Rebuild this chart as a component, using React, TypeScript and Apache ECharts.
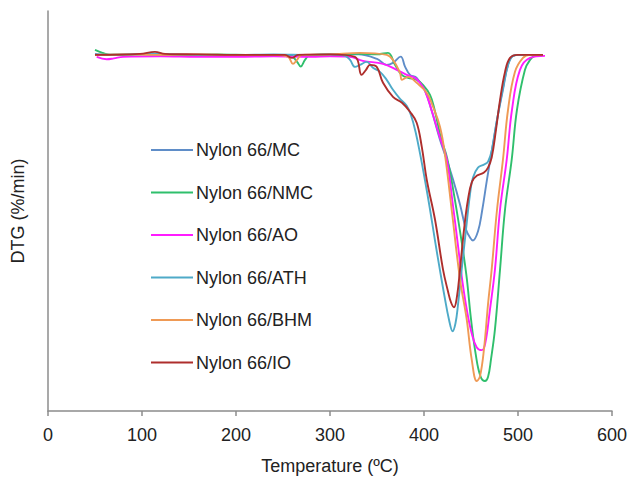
import React, { useEffect, useRef } from "react";
import * as echarts from "echarts";

const seriesNames = [
  "Nylon 66/MC",
  "Nylon 66/NMC",
  "Nylon 66/AO",
  "Nylon 66/ATH",
  "Nylon 66/BHM",
  "Nylon 66/IO",
];
const seriesColors = ["#5f8dc8", "#2fbf6c", "#ff1cff", "#4eaac8", "#ef9a55", "#ae2e2c"];
const xTicks = [0, 100, 200, 300, 400, 500, 600];

// [temperature (ºC), DTG (%/min)]
const mc: number[][] = [
  [50, 0.1], [70, 0], [100, 0.05], [140, 0], [180, 0], [220, -0.05], [260, 0], [300, 0],
  [330, 0.05], [350, -0.4], [360.3, -1.0], [367, -0.8], [375.2, -0.17], [379.8, -1.17],
  [385.1, -2.0], [392.2, -2.3], [401.1, -3.6], [408.2, -5.6], [417, -8.5], [424.1, -10.5],
  [430.9, -12.5], [438.3, -15], [444.7, -17.5], [448.9, -18.3], [452.1, -18.6], [457.4, -17.7],
  [461.7, -15.7], [467, -12.5], [472.3, -9.5], [477.7, -6.5], [484, -3.5], [489.4, -1.0],
  [494.7, -0.1], [502, 0], [526.6, 0],
];
const nmc: number[][] = [
  [50, 0.5], [58, 0.2], [66, 0], [100, 0.05], [140, 0], [180, 0.05], [220, 0], [250, 0],
  [257, 0], [265, -0.7], [268.8, -1.17], [273.4, -0.5], [278.7, 0], [300, 0.05], [330, 0.1],
  [350, 0.05], [361.7, 0.2], [369.1, -1.0], [376.3, -2.0], [383, -2.3], [392.2, -2.5],
  [398.9, -3.0], [406.4, -4.0], [411, -5.4], [418, -8.3], [424.5, -10.3], [431, -13.5],
  [438, -17.5], [445, -22], [450, -26.5], [455, -30], [460, -32.2], [464.9, -32.7],
  [468.1, -32.3], [471.3, -30.5], [475.5, -27.5], [480.9, -21.5], [486.2, -15.5], [493.3, -10.5],
  [498.9, -5.5], [507.4, -1.5], [512.8, -0.5], [518.1, -0.1], [526.6, 0],
];
const ao: number[][] = [
  [51.8, -0.2], [62.4, -0.43], [70, -0.35], [79.8, -0.2], [120, -0.15], [160, -0.2], [200, -0.2],
  [240, -0.15], [280, -0.2], [300, -0.15], [321, -0.2], [335, -0.6], [356.4, -0.9], [371, -1.5],
  [381.6, -2.0], [390.4, -2.3], [395.7, -2.8], [401.1, -3.6], [408.2, -5.6], [417, -8.3],
  [424.1, -10.4], [430, -14.5], [436, -19], [441, -22.8], [446, -25.8], [451, -28], [456, -29.3],
  [461.4, -29.6], [465, -29], [470.2, -25.5], [475.5, -21.5], [480.9, -15.5], [488, -10.5],
  [493.6, -5.5], [502.1, -1.5], [512.8, -0.3], [528.7, -0.1],
];
const ath: number[][] = [
  [50, 0], [80, 0.05], [120, 0.1], [160, 0], [200, 0], [240, 0.05], [280, 0], [300, 0.05],
  [316, -0.1], [321.3, -0.5], [326.6, -1.2], [331.9, -1.0], [339, -0.7], [345.7, -1.3],
  [353.2, -1.7], [360.3, -2.5], [367, -3.5], [374.5, -4.4], [381.6, -5.1], [386, -6.0],
  [391, -7.7], [396, -10.0], [401.1, -12.6], [406.4, -15.5], [412, -18.8], [417, -21.6],
  [422, -24.3], [426.5, -26.5], [430.5, -27.7], [433.5, -26.9], [436, -25.2], [440.1, -21.5],
  [444.7, -17.5], [448.9, -14], [452.1, -12.3], [457.4, -11.3], [463.8, -11], [468.1, -10.7],
  [472.3, -9.5], [477.7, -6.5], [484, -3.3], [489.4, -1.0], [494.7, -0.1], [502.1, 0], [526.6, 0],
];
const bhm: number[][] = [
  [50, 0], [80, 0.05], [120, 0], [160, 0.05], [200, 0], [240, 0], [255.3, -0.2], [260.6, -0.9],
  [264.9, -0.5], [270.2, 0], [300, 0.05], [331.9, 0.2], [360.3, 0], [367, -0.5], [374.5, -1.8],
  [376.6, -2.5], [383, -2.2], [392.2, -2.8], [402.9, -3.8], [409.6, -5.2], [417, -7.2],
  [422.3, -10], [429.8, -15.8], [438.3, -22.5], [445.4, -26.5], [450.7, -30.5], [456.1, -32.7],
  [459.6, -32.2], [463.8, -29.5], [468.1, -25], [472, -21.5], [477.7, -15.5], [484, -10.5],
  [489.4, -5.5], [496.8, -1.7], [505.3, -0.3], [512.8, 0], [526.6, 0],
];
const io: number[][] = [
  [50, 0], [97.9, 0.1], [113.8, 0.3], [124.5, 0.1], [160, 0.05], [200, 0], [240, 0], [252, 0],
  [259.6, -0.3], [266, 0], [300, 0.05], [326.6, -0.2], [333.7, -2.0], [338.3, -1.5], [342.6, -1.0],
  [349.7, -1.2], [356.4, -2.8], [367, -4.2], [376.6, -4.8], [385.1, -5.7], [392.2, -6.8],
  [397.6, -9.2], [402.9, -12.5], [411.7, -16.5], [420.2, -21.5], [425.5, -23.7], [428.7, -24.8],
  [431.9, -25.3], [435.1, -24.2], [438.3, -21.5], [442.6, -17.5], [446.8, -14.5], [451.1, -12.7],
  [456.4, -12.1], [463.8, -11.8], [468.1, -11.3], [472, -10.3], [476.6, -7.5], [480.9, -4.5],
  [486.2, -1.7], [491.5, -0.3], [499.6, 0], [526.6, 0],
];
const allData = [mc, nmc, ao, ath, bhm, io];

const FONT = "'Liberation Sans', Arial, Helvetica, sans-serif";

export default function App() {
  const ref = useRef<HTMLDivElement>(null);
  useEffect(() => {
    if (!ref.current) return;
    const chart = echarts.init(ref.current, undefined, { renderer: "svg" });
    chart.setOption({
      animation: false,
      backgroundColor: "#ffffff",
      grid: { left: 48, right: 20, top: 11, bottom: 68 },
      legend: {
        orient: "vertical",
        left: 146,
        top: 135,
        itemWidth: 42,
        itemHeight: 2,
        itemGap: 22.5,
        icon: "rect",
        data: seriesNames,
        textStyle: {
          fontFamily: FONT,
          fontSize: 18,
          color: "#222",
          lineHeight: 20,
          padding: [0, 0, 0, -2],
        },
      },
      xAxis: {
        type: "value",
        min: 0,
        max: 600,
        interval: 100,
        name: "Temperature (ºC)",
        nameLocation: "middle",
        nameGap: 46,
        nameTextStyle: { fontFamily: FONT, fontSize: 18, color: "#222" },
        axisLine: { onZero: false, lineStyle: { color: "#8c8c8c", width: 1.5 } },
        axisTick: { show: true, length: 5, lineStyle: { color: "#8c8c8c", width: 1.5 } },
        axisLabel: {
          fontFamily: FONT,
          fontSize: 18,
          color: "#222",
          margin: 15,
          formatter: (v: number) => (xTicks.includes(v) ? String(v) : ""),
        },
        splitLine: { show: false },
      },
      yAxis: {
        type: "value",
        min: -35.7,
        max: 4.4,
        name: "DTG (%/min)",
        nameLocation: "middle",
        nameGap: 21,
        nameTextStyle: { fontFamily: FONT, fontSize: 18, color: "#222" },
        axisLine: { show: true, onZero: false, lineStyle: { color: "#8c8c8c", width: 1.5 } },
        axisTick: { show: false },
        axisLabel: { show: false },
        splitLine: { show: false },
      },
      series: seriesNames.map((name, i) => ({
        name,
        type: "line",
        data: allData[i],
        smooth: 0.4,
        showSymbol: false,
        symbol: "none",
        color: seriesColors[i],
        lineStyle: { width: 1.9, color: seriesColors[i] },
      })),
    });
    return () => chart.dispose();
  }, []);
  return <div ref={ref} style={{ width: 632, height: 480, position: "absolute", left: 0, top: 0 }} />;
}
